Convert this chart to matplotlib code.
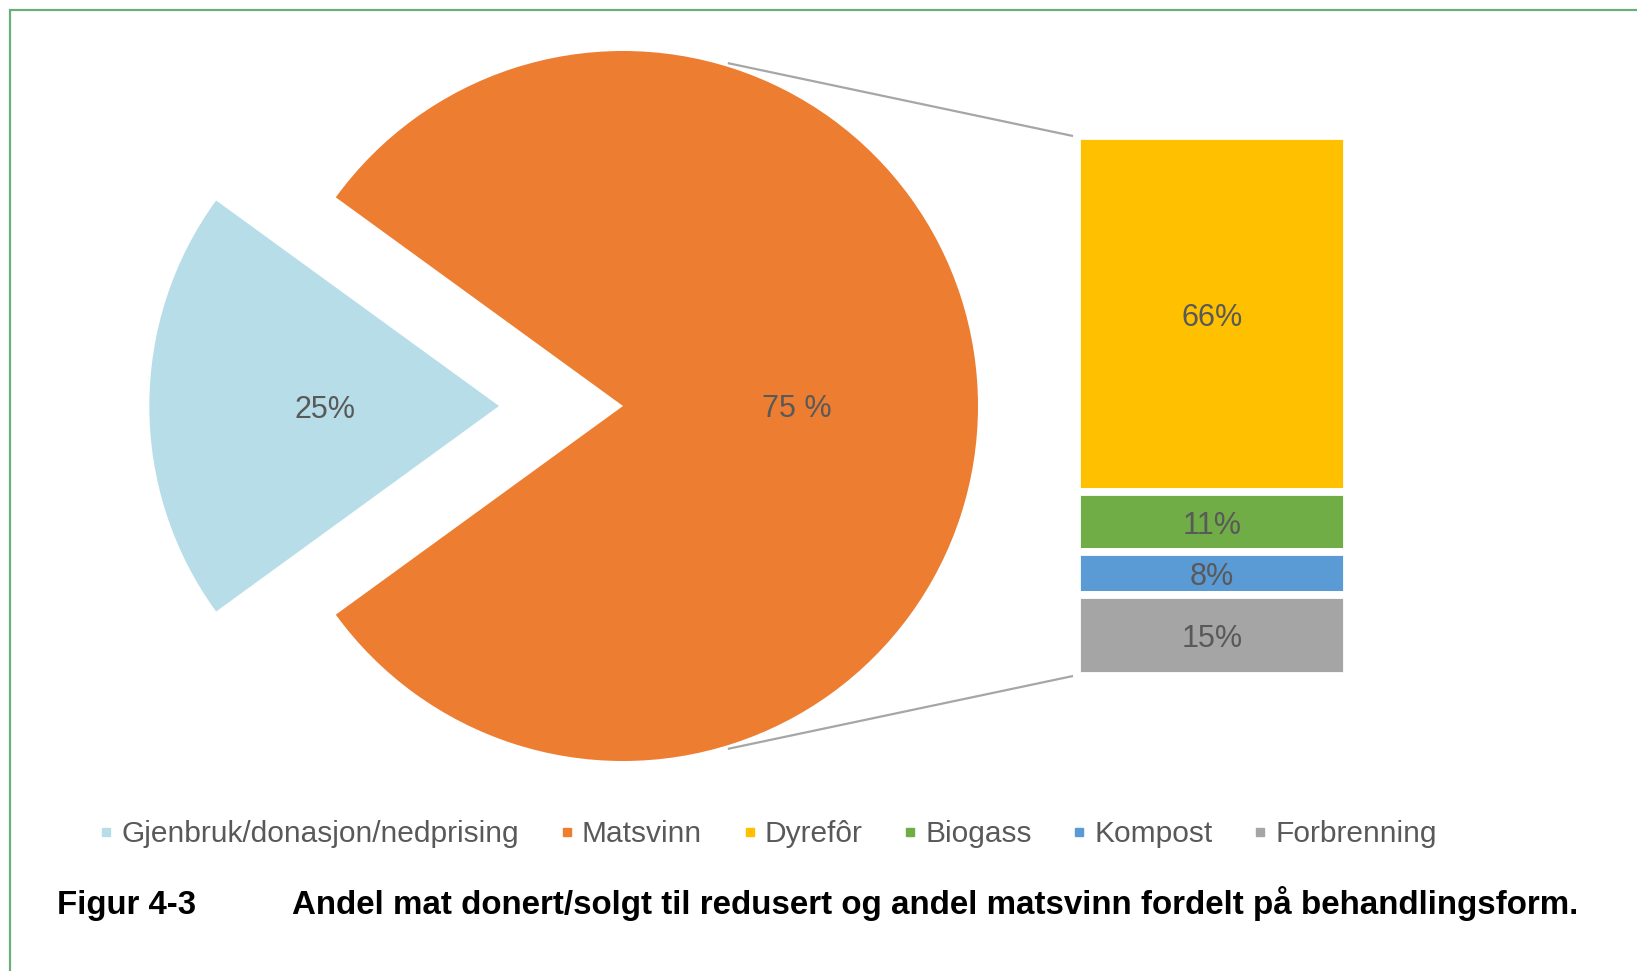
import matplotlib.pyplot as plt
from matplotlib.lines import Line2D
import numpy as np

plt.rcParams['font.family'] = ['Liberation Sans', 'DejaVu Sans']

# data
pie_labels = ["Gjenbruk/donasjon/nedprising", "Matsvinn"]
gjenbruk = 25
sub_labels = ["Dyrefôr", "Biogass", "Kompost", "Forbrenning"]
sub_values = [66, 11, 8, 15]

pie_colors = ["#b7dde8", "#ed7d31"]
sub_colors = ["#ffc000", "#70ad47", "#5b9bd5", "#a5a5a5"]
txt_col = "#595959"

W, H = 1637, 971
fig = plt.figure(figsize=(W / 100, H / 100), dpi=100)
ax = fig.add_axes([0, 0, 1, 1])

# pie: the second slice holds the sum of the sub values (bar of pie)
cx, cy, r = 623, H - 406, 355
pie_vals = [gjenbruk, sum(sub_values)]
pct_text = iter([f"{gjenbruk}%", f"{100 - gjenbruk} %"])
wedges, _, autotexts = ax.pie(pie_vals, colors=pie_colors, startangle=144,
                              center=(cx, cy), radius=r, explode=[124, 0],
                              autopct=lambda p: next(pct_text), pctdistance=0.49,
                              textprops=dict(color=txt_col, fontsize=22),
                              wedgeprops=dict(linewidth=0))
wedges[0].set_radius(r * 0.985)
for t in autotexts:
    t.set_va('center_baseline')
ax.set_xlim(0, W)
ax.set_ylim(0, H)
ax.set_aspect('auto')
ax.axis('off')

# stacked bar
bx, bw = 1212, 270
top = H - 136
scale = 5.40
bottoms = top - scale * np.cumsum(sub_values)
heights = scale * np.array(sub_values)
bars = ax.bar([bx] * 4, heights, bottom=bottoms, width=bw, color=sub_colors,
              edgecolor='white', linewidth=5.6)
for b, v in zip(bars, sub_values):
    ax.text(b.get_x() + b.get_width() / 2, b.get_y() + b.get_height() / 2,
            f"{v}%", ha='center', va='center_baseline', color=txt_col, fontsize=22)

# connector lines
ang = np.deg2rad(73)
for s, yb in [(1, top), (-1, bottoms[-1])]:
    ax.plot([cx + r * 1.01 * np.cos(ang), bx - bw / 2 - 4],
            [cy + s * r * 1.01 * np.sin(ang), yb], color='#a6a6a6', lw=1.6,
            solid_capstyle='butt')

# legend
handles = [Line2D([], [], ls='none', marker='s', markersize=5.5, color=c)
           for c in pie_colors + sub_colors]
fig.legend(handles, pie_labels + sub_labels, loc='center', ncol=6,
           bbox_to_anchor=(0.470, 1 - 834 / H), frameon=False,
           fontsize=21.5, labelcolor=txt_col, handlelength=0.3,
           handletextpad=0.35, columnspacing=1.45, borderpad=0)

# caption
fig.text(57 / W, 1 - 914 / H, "Figur 4-3", fontsize=23.8, fontweight='bold',
         va='baseline', color='black')
fig.text(292 / W, 1 - 914 / H,
         "Andel mat donert/solgt til redusert og andel matsvinn fordelt på behandlingsform.",
         fontsize=23.9, fontweight='bold', va='baseline', color='black')

# green frame
ax.plot([10, 10, W], [0, H - 10, H - 10], color='#6aae7c', lw=1.6,
        solid_joinstyle='miter')

fig.savefig('out.png', dpi=100)
